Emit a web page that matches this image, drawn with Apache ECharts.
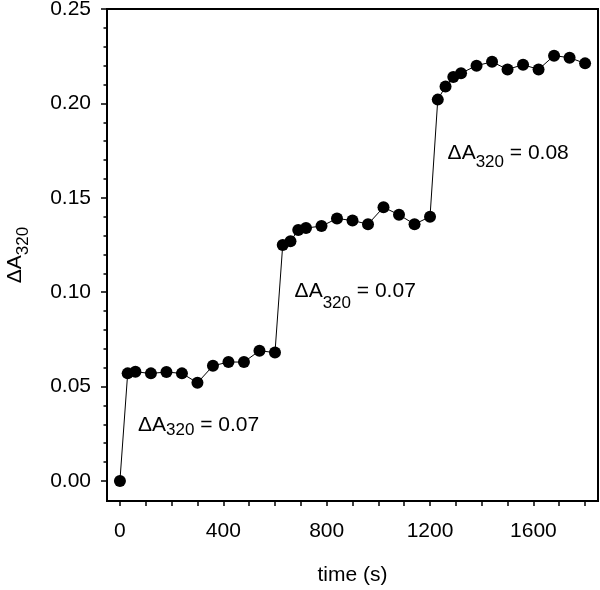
<!DOCTYPE html>
<html>
<head>
<meta charset="utf-8">
<script src="https://cdn.jsdelivr.net/npm/echarts@6/dist/echarts.min.js"></script>
<style>html,body{margin:0;padding:0;background:#fff}#c{width:600px;height:590px}</style>
</head>
<body>
<div id="c"></div>
<script>
// ---- data ----
var times = [0, 30, 60, 120, 180, 240, 300, 360, 420, 480, 540, 600,
             630, 660, 690, 720, 780, 840, 900, 960, 1020, 1080, 1140, 1200,
             1230, 1260, 1290, 1320, 1380, 1440, 1500, 1560, 1620, 1680, 1740, 1800];
var dA320 = [0.000, 0.057, 0.0578, 0.057, 0.0577, 0.057, 0.052, 0.061, 0.063, 0.063, 0.069, 0.068,
             0.125, 0.127, 0.133, 0.134, 0.135, 0.139, 0.138, 0.136, 0.145, 0.141, 0.136, 0.140,
             0.202, 0.209, 0.214, 0.216, 0.220, 0.222, 0.218, 0.2205, 0.218, 0.2253, 0.2242, 0.2212];
var xTickValues = [0,100,200,300,400,500,600,700,800,900,1000,1100,1200,1300,1400,1500,1600,1700,1800];
var xLabelValues = [0, 400, 800, 1200, 1600];
var yLabelValues = [0, 0.05, 0.10, 0.15, 0.20, 0.25];
var yMinorValues = [0.01,0.02,0.03,0.04,0.06,0.07,0.08,0.09,0.11,0.12,0.13,0.14,0.16,0.17,0.18,0.19,0.21,0.22,0.23,0.24];
var annotX = [70, 676, 1268];
var annotY = [0.0297, 0.1006, 0.1735];
var annotValues = ['0.07', '0.07', '0.08'];
// ---- chart ----
var FONT = 'Liberation Sans, Arial, sans-serif';
var FS = 21;
var XMIN = -50, XMAX = 1850, YMIN = -0.0106, YMAX = 0.25;
var gridBox = {left: 107, top: 9, right: 2, bottom: 89, outerBoundsMode: 'none', containLabel: false};
var chart = echarts.init(document.getElementById('c'), null, {renderer: 'canvas'});

var subShift = [5, 12, 9];
var rich = {
  m: {fontSize: FS, fontFamily: FONT, color: '#000', lineHeight: 24}
};
subShift.forEach(function (s, i) {
  rich['s' + i] = {fontSize: 17, fontFamily: FONT, color: '#000', lineHeight: 18, padding: [2 * s, 0, 0, 0]};
});

var annotData = annotX.map(function (x, i) {
  return {
    value: [x, annotY[i]],
    label: {formatter: '{m|ΔA}{s' + i + '|320}{m| = ' + annotValues[i] + '}'}
  };
});

var option = {
  animation: false,
  backgroundColor: '#fff',
  grid: [
    Object.assign({show: true, borderColor: '#000', borderWidth: 2, backgroundColor: 'transparent'}, gridBox),
    Object.assign({show: false}, gridBox)
  ],
  xAxis: [{
    type: 'value', gridIndex: 0, min: XMIN, max: XMAX,
    name: 'time (s)', nameLocation: 'middle', nameGap: 64,
    nameTextStyle: {fontSize: FS, fontFamily: FONT, color: '#000'},
    axisLine: {show: true, onZero: false, lineStyle: {color: '#000', width: 2}},
    axisTick: {show: true, length: 5, lineStyle: {color: '#000', width: 1.5}, customValues: xTickValues},
    axisLabel: {fontSize: FS, fontFamily: FONT, color: '#000', margin: 20, customValues: xLabelValues,
      formatter: function (v) { return String(v); }},
    splitLine: {show: false}
  }, {
    type: 'value', gridIndex: 1, min: XMIN, max: XMAX, show: false
  }],
  yAxis: [{
    type: 'value', gridIndex: 0, min: YMIN, max: YMAX,
    name: '{m|ΔA}{s|320}', nameLocation: 'middle', nameGap: 80,
    nameTextStyle: {
      fontSize: FS, fontFamily: FONT, color: '#000',
      rich: {
        m: {fontSize: FS, fontFamily: FONT, color: '#000', lineHeight: 24},
        s: {fontSize: 17, fontFamily: FONT, color: '#000', lineHeight: 18, padding: [16, 0, 0, 0]}
      }
    },
    axisLine: {show: true, onZero: false, lineStyle: {color: '#000', width: 2}},
    axisTick: {show: true, length: 6, lineStyle: {color: '#000', width: 1.5}, customValues: yLabelValues},
    axisLabel: {fontSize: FS, fontFamily: FONT, color: '#000', margin: 16, customValues: yLabelValues,
      formatter: function (v) { return v.toFixed(2); }},
    splitLine: {show: false}
  }, {
    type: 'value', gridIndex: 1, min: YMIN, max: YMAX, position: 'left',
    axisLine: {show: false, onZero: false},
    axisTick: {show: true, length: 3.5, lineStyle: {color: '#000', width: 1.5}, customValues: yMinorValues},
    axisLabel: {show: false},
    splitLine: {show: false}
  }],
  series: [{
    type: 'line',
    xAxisIndex: 0, yAxisIndex: 0,
    data: times.map(function (t, i) { return [t, dA320[i]]; }),
    symbol: 'circle', symbolSize: 12, showAllSymbol: true,
    lineStyle: {color: '#000', width: 1},
    itemStyle: {color: '#000'},
    z: 3
  }, {
    type: 'scatter',
    xAxisIndex: 0, yAxisIndex: 0,
    data: annotData,
    symbolSize: 0,
    itemStyle: {color: 'transparent', opacity: 1},
    label: {show: true, position: 'right', distance: 0, rich: rich, color: '#000', textBorderWidth: 0, opacity: 1},
    silent: true
  }]
};
chart.setOption(option);
</script>
</body>
</html>
